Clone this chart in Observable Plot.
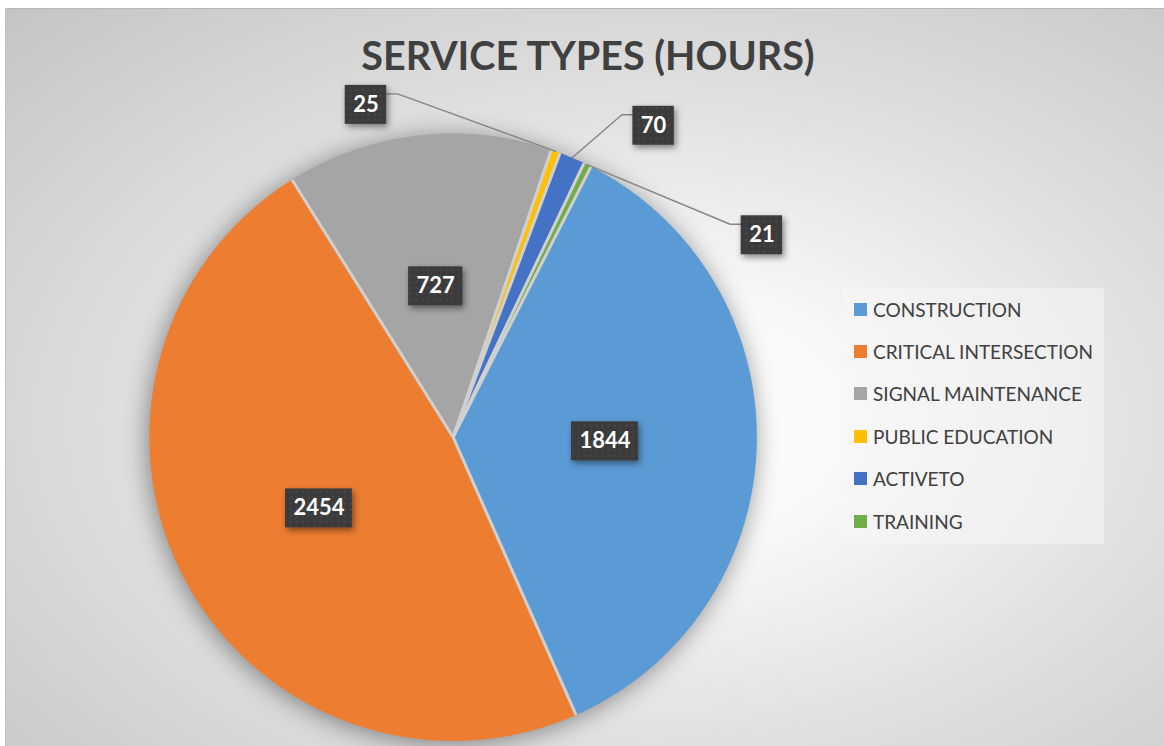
<!DOCTYPE html>
<html>
<head>
<meta charset="utf-8">
<script src="https://cdn.jsdelivr.net/npm/d3@7"></script>
<script src="https://cdn.jsdelivr.net/npm/@observablehq/plot@0.6"></script>
<style>
  html, body { margin: 0; padding: 0; background: #ffffff; }
  #frame {
    position: absolute; left: 5px; top: 8px; width: 1159px; height: 738px; overflow: hidden;
    box-sizing: border-box;
    border-top: 1px solid #b8b8b8; border-left: 1px solid #c2c2c2;
    background: radial-gradient(ellipse farthest-corner at 56% 56%, #ffffff 0%, #f8f8f8 22%, #e0e0e0 55%, #c4c4c4 100%);
  }
  #title {
    position: absolute; left: 3px; top: 22px; width: 100%; text-align: center;
    font-family: Lato, "Open Sans", sans-serif; font-weight: 700; font-size: 39.5px;
    color: #404040; line-height: normal; white-space: nowrap;
  }
  #chart { position: absolute; left: 0; top: 72px; }
  #legend {
    position: absolute; left: 837px; top: 279px; width: 261px; height: 256px;
    background: rgba(246,246,246,0.55); box-sizing: border-box; padding-left: 11px;
  }
  #legend [class*="-swatches"] { font-family: Lato, "Open Sans", sans-serif; font-size: 19px; color: #404040; margin: 0; }
  #legend [class$="-swatch"] { height: 42.4px; padding: 0; margin: 0; }
  #legend [class$="-swatch"] > svg { margin-right: 6px; }
</style>
</head>
<body>
<div id="frame">
  <div id="title">SERVICE TYPES (HOURS)</div>
  <div id="chart"></div>
  <div id="legend"></div>
</div>
<script>
// ---- data ----
const categories = ["CONSTRUCTION", "CRITICAL INTERSECTION", "SIGNAL MAINTENANCE", "PUBLIC EDUCATION", "ACTIVETO", "TRAINING"];
const hours = [1844, 2454, 727, 25, 70, 21];
const colors = ["#5B9BD5", "#ED7D31", "#A5A5A5", "#FFC000", "#4472C4", "#70AD47"];

// ---- layout ----
const W = 1159, H = 666;
const cx = 447, cy = 356, R = 304;          // pie centre & radius (px)
const firstSliceAngle = 27 * Math.PI / 180; // Excel "angle of first slice"
const px = v => v / R;                       // pixels -> data units
// manual callout offsets (px) for the tiny slices, relative to slice edge midpoint
const calloutOffset = { "PUBLIC EDUCATION": [-190, -46.5], "ACTIVETO": [81.5, -32], "TRAINING": [174.5, 70.5] };

const arcs = d3.pie().sort(null).value(d => d).startAngle(firstSliceAngle).endAngle(firstSliceAngle + 2 * Math.PI)(hours);

// slice outlines
const slicePts = [];
arcs.forEach((a, i) => {
  slicePts.push({k: categories[i], x: 0, y: 0});
  const n = Math.max(3, Math.ceil((a.endAngle - a.startAngle) / 0.004));
  for (let j = 0; j <= n; j++) {
    const t = a.startAngle + (a.endAngle - a.startAngle) * j / n;
    slicePts.push({k: categories[i], x: Math.sin(t), y: Math.cos(t)});
  }
});
const boundaries = arcs.map(a => a.startAngle);

// labels
const labels = arcs.map((a, i) => {
  const mid = (a.startAngle + a.endAngle) / 2;
  const txt = String(hours[i]);
  const w = px(16 + 12.75 * txt.length), h = px(39);
  const off = calloutOffset[categories[i]];
  if (!off) return {txt, x: 0.5 * Math.sin(mid), y: 0.5 * Math.cos(mid), w, h, leader: null};
  const ex = Math.sin(mid), ey = Math.cos(mid);
  const x = ex + px(off[0]), y = ey - px(off[1]);
  const side = off[0] < 0 ? 1 : -1;               // box on left -> connect at its right edge
  const edgeX = x + side * w / 2, ly = y + px(11);
  const leader = [
    {x: edgeX, y: ly},
    {x: edgeX + side * px(11), y: ly},
    {x: ex, y: ey}
  ].map(p => ({...p, k: categories[i]}));
  return {txt, x, y, w, h, leader};
});
const leaderPts = labels.filter(d => d.leader).flatMap(d => d.leader);

const chart = Plot.plot({
  width: W, height: H,
  margin: 0,
  style: {background: "transparent", overflow: "visible"},
  x: {domain: [-cx / R, (W - cx) / R], range: [0, W], axis: null},
  y: {domain: [-(H - cy) / R, cy / R], range: [H, 0], axis: null},
  color: {type: "ordinal", domain: categories, range: colors},
  marks: [
    Plot.line(slicePts, {x: "x", y: "y", z: "k", fill: "k", stroke: "none", curve: "linear-closed"}),
    Plot.link(boundaries, {x1: 0, y1: 0, x2: t => Math.sin(t), y2: t => Math.cos(t), stroke: "#d0d0d0", strokeWidth: 3}),
    Plot.line(leaderPts, {x: "x", y: "y", z: "k", stroke: "#858585", strokeWidth: 1.4}),
    Plot.rect(labels, {x1: d => d.x - d.w / 2, x2: d => d.x + d.w / 2, y1: d => d.y - d.h / 2, y2: d => d.y + d.h / 2, fill: "url(#dots)"}),
    Plot.text(labels, {x: "x", y: "y", text: "txt", fill: "white", fontSize: 22, fontWeight: "bold", fontFamily: "Lato, 'Open Sans', sans-serif"})
  ]
});

d3.select(chart).insert("defs", ":first-child").html(
  '<pattern id="dots" width="6" height="6" patternUnits="userSpaceOnUse">' +
  '<rect width="6" height="6" fill="#3b3b3b"/><circle cx="3" cy="3" r="0.8" fill="#575757"/></pattern>');
const lineGroups = chart.querySelectorAll('g[aria-label="line"]');
if (lineGroups[0]) lineGroups[0].style.filter = "drop-shadow(-2px 3px 12px rgba(0,0,0,0.42))";
chart.querySelectorAll('g[aria-label="rect"]').forEach(g => g.style.filter = "drop-shadow(2px 3px 3px rgba(0,0,0,0.45))");
document.getElementById("chart").appendChild(chart);

const legend = Plot.legend({
  color: {type: "ordinal", domain: categories, range: colors},
  legend: "swatches", columns: 1, swatchSize: 13, className: "lg"
});
document.getElementById("legend").appendChild(legend);
</script>
</body>
</html>
